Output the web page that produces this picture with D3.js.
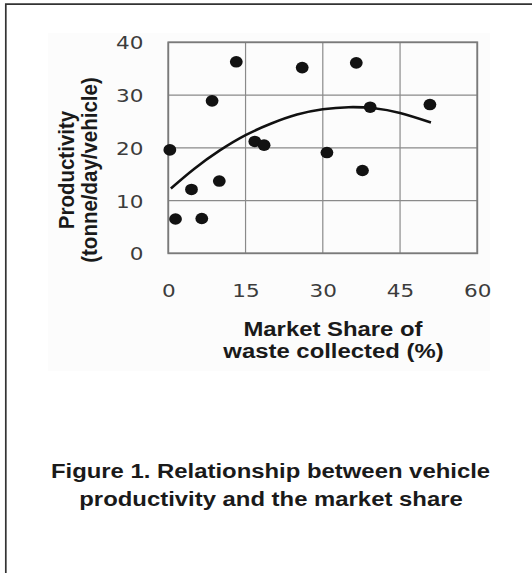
<!DOCTYPE html>
<html>
<head>
<meta charset="utf-8">
<script src="https://cdn.jsdelivr.net/npm/d3@7"></script>
<style>
body { margin: 0; background: #fff; }
svg { display: block; }
.tick text { font-family: "DejaVu Sans", sans-serif; font-size: 18.5px; fill: #3c3c3c; }
.title { font-family: "Liberation Sans", Arial, sans-serif; font-weight: bold; font-size: 20.5px; fill: #1a1a1a; }
</style>
</head>
<body>
<svg width="532" height="573"></svg>
<script>
// market share (%) and productivity of each operator
var shareX = [0.3, 1.4, 4.5, 6.5, 8.5, 9.9, 13.2, 16.8, 18.6, 26.0, 30.8, 36.5, 37.7, 39.2, 50.8];
var productivityY = [19.6, 6.5, 12.1, 6.6, 28.9, 13.7, 36.3, 21.2, 20.5, 35.2, 19.1, 36.1, 15.7, 27.7, 28.2];

// points along the drawn trend curve
var trendX = [0.5, 5, 10, 15, 20, 25, 30, 35, 40, 45, 51];
var trendY = [12.3, 16.0, 19.5, 22.4, 24.6, 26.3, 27.3, 27.7, 27.5, 26.6, 24.8];

var xTicks = [0, 15, 30, 45, 60];
var yTicks = [0, 10, 20, 30, 40];

var stretch = 1.165; // the scanned figure is a bit wider than tall

var svg = d3.select('svg');

var xScale = d3.scaleLinear().domain([0, 60]).range([168.3, 477.3]);
var yScale = d3.scaleLinear().domain([0, 40]).range([253.3, 42.3]);

// outer frame of the figure (runs off the right and bottom)
svg.append('path')
    .attr('d', 'M5.8,573V4.2H532')
    .attr('fill', 'none')
    .attr('stroke', '#333')
    .attr('stroke-width', 1.7);

// faint chart background
svg.append('rect')
    .attr('x', 48).attr('y', 33)
    .attr('width', 442).attr('height', 338)
    .attr('fill', '#fcfcfc');

// grid
svg.append('g').selectAll('line.v')
    .data(xTicks)
    .enter()
    .append('line')
    .attr('x1', function(d){ return xScale(d); })
    .attr('x2', function(d){ return xScale(d); })
    .attr('y1', yScale(0)).attr('y2', yScale(40))
    .attr('stroke', '#8a8a8a').attr('stroke-width', 1.2);

svg.append('g').selectAll('line.h')
    .data(yTicks)
    .enter()
    .append('line')
    .attr('y1', function(d){ return yScale(d); })
    .attr('y2', function(d){ return yScale(d); })
    .attr('x1', xScale(0)).attr('x2', xScale(60))
    .attr('stroke', '#8a8a8a').attr('stroke-width', 1.2);

svg.append('rect')
    .attr('x', xScale(0)).attr('y', yScale(40))
    .attr('width', xScale(60) - xScale(0))
    .attr('height', yScale(0) - yScale(40))
    .attr('fill', 'none')
    .attr('stroke', '#7a7a7a')
    .attr('stroke-width', 1.8);

// axes (labels only)
var xAxis = svg.append('g').attr('class', 'x axis')
    .attr('transform', 'translate(0,' + yScale(0) + ')')
    .call(d3.axisBottom(xScale).tickValues(xTicks).tickSize(0));
xAxis.select('.domain').remove();
xAxis.selectAll('text')
    .attr('y', 0).attr('dy', null)
    .attr('transform', 'translate(0,43.8) scale(' + stretch + ',1)');

var yAxis = svg.append('g').attr('class', 'y axis')
    .attr('transform', 'translate(' + xScale(0) + ',0)')
    .call(d3.axisLeft(yScale).tickValues(yTicks).tickSize(0));
yAxis.select('.domain').remove();
yAxis.selectAll('text')
    .attr('x', 0).attr('dy', '0.36em')
    .attr('transform', 'translate(-24.8,0) scale(' + stretch + ',1)');

// trend curve
var trend = trendX.map(function(d, i){ return [d, trendY[i]]; });
svg.append('path')
    .datum(trend)
    .attr('fill', 'none')
    .attr('stroke', '#111')
    .attr('stroke-width', 2.6)
    .attr('d', d3.line()
        .x(function(d){ return xScale(d[0]); })
        .y(function(d){ return yScale(d[1]); })
        .curve(d3.curveNatural));

// points
svg.append('g').selectAll('ellipse')
    .data(shareX)
    .enter()
    .append('ellipse')
    .attr('cx', function(d){ return xScale(d); })
    .attr('cy', function(d, i){ return yScale(productivityY[i]); })
    .attr('rx', 6.4)
    .attr('ry', 5.8)
    .attr('fill', '#121212');

// axis titles
function title(txt, x, y, extra) {
    svg.append('text')
        .attr('class', 'title')
        .attr('text-anchor', 'middle')
        .attr('transform', 'translate(' + x + ',' + y + ') ' + extra)
        .text(txt);
}

title('Productivity', 73.5, 170, 'scale(1.1,1) rotate(-90)');
title('(tonne/day/vehicle)', 96.5, 170, 'scale(1.1,1) rotate(-90)');

title('Market Share of', 333, 335.5, 'scale(' + stretch + ',1)');
title('waste collected (%)', 333.5, 357.5, 'scale(' + stretch + ',1)');

// caption
title('Figure 1. Relationship between vehicle', 270.5, 478, 'scale(' + stretch + ',1)');
title('productivity and the market share', 271, 505.5, 'scale(' + stretch + ',1)');
</script>
</body>
</html>
